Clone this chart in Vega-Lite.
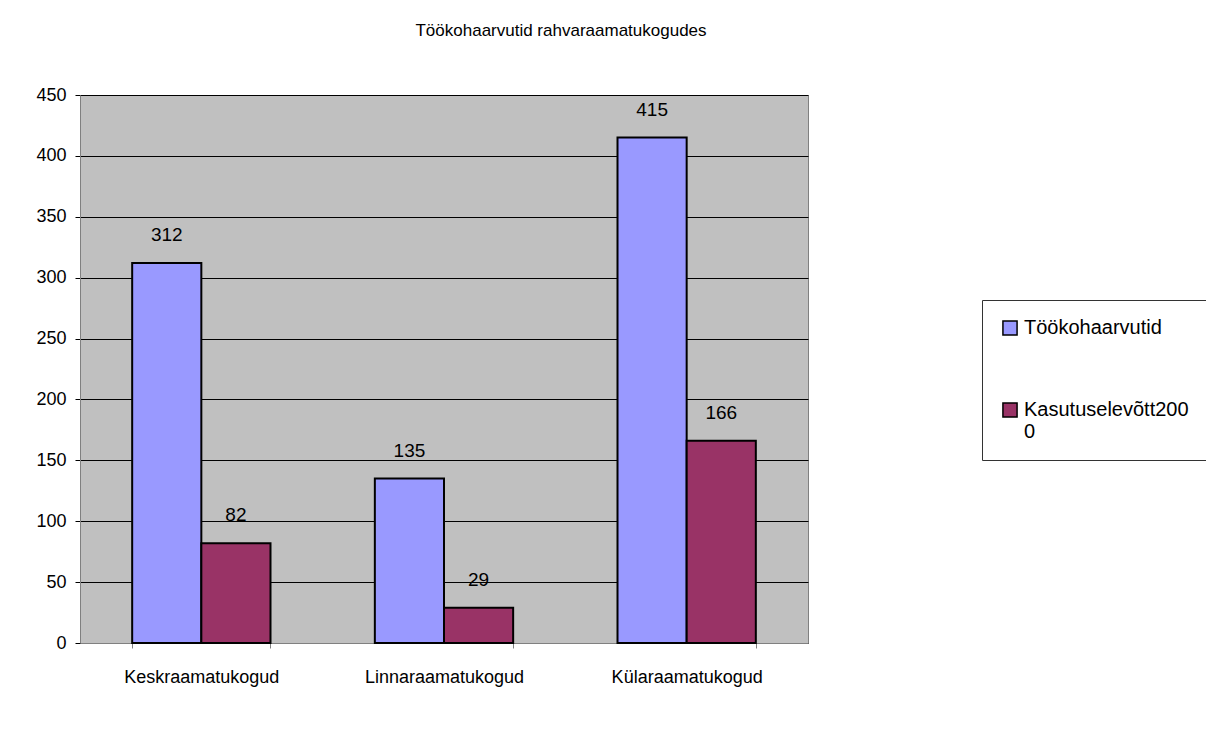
{
  "$schema": "https://vega.github.io/schema/vega-lite/v6.json",
  "autosize": {"type": "none"},
  "padding": {"left": 80, "top": 95, "right": 398, "bottom": 100},
  "width": 728,
  "height": 548,
  "background": "white",
  "title": {
    "text": "Töökohaarvutid rahvaraamatukogudes",
    "font": "Liberation Sans",
    "fontSize": 17,
    "fontWeight": "normal",
    "color": "black",
    "anchor": "middle",
    "dx": 117,
    "offset": 46
  },
  "data": {
    "values": [
      {"kategooria": "Keskraamatukogud", "seeria": "Töökohaarvutid", "väärtus": 312},
      {"kategooria": "Keskraamatukogud", "seeria": "Kasutuselevõtt2000", "väärtus": 82},
      {"kategooria": "Linnaraamatukogud", "seeria": "Töökohaarvutid", "väärtus": 135},
      {"kategooria": "Linnaraamatukogud", "seeria": "Kasutuselevõtt2000", "väärtus": 29},
      {"kategooria": "Külaraamatukogud", "seeria": "Töökohaarvutid", "väärtus": 415},
      {"kategooria": "Külaraamatukogud", "seeria": "Kasutuselevõtt2000", "väärtus": 166}
    ]
  },
  "encoding": {
    "x": {
      "field": "kategooria",
      "type": "nominal",
      "sort": ["Keskraamatukogud", "Linnaraamatukogud", "Külaraamatukogud"],
      "scale": {"paddingInner": 0.43, "paddingOuter": 0.215},
      "axis": {
        "title": null,
        "labelAngle": 0,
        "labelFont": "Liberation Sans",
        "labelFontSize": 18,
        "labelColor": "black",
        "labelPadding": 20,
        "tickBand": "extent",
        "tickColor": "#808080",
        "tickSize": 5,
        "domainColor": "#808080",
        "grid": false
      }
    },
    "xOffset": {
      "field": "seeria",
      "type": "nominal",
      "sort": ["Töökohaarvutid", "Kasutuselevõtt2000"],
      "scale": {"paddingInner": 0, "paddingOuter": 0}
    },
    "y": {
      "field": "väärtus",
      "type": "quantitative",
      "scale": {"domain": [0, 450], "nice": false},
      "axis": {
        "title": null,
        "values": [0, 50, 100, 150, 200, 250, 300, 350, 400, 450],
        "labelFont": "Liberation Sans",
        "labelFontSize": 18,
        "labelColor": "black",
        "labelPadding": 9,
        "tickColor": "black",
        "tickSize": 5,
        "domainColor": "#808080",
        "grid": true,
        "gridColor": "black",
        "gridWidth": 1
      }
    }
  },
  "layer": [
    {
      "mark": {"type": "bar", "stroke": "black", "strokeWidth": 2},
      "encoding": {
        "color": {
          "field": "seeria",
          "type": "nominal",
          "sort": ["Töökohaarvutid", "Kasutuselevõtt2000"],
          "scale": {"domain": ["Töökohaarvutid", "Kasutuselevõtt2000"], "range": ["#9999FF", "#993366"]},
          "legend": {
            "title": null,
            "orient": "none",
            "legendX": 902,
            "legendY": 205,
            "direction": "vertical",
            "strokeColor": "#333333",
            "padding": 18,
            "symbolType": "square",
            "symbolSize": 200,
            "symbolStrokeColor": "black",
            "symbolStrokeWidth": 1.5,
            "symbolOpacity": 1,
            "labelFont": "Liberation Sans",
            "labelFontSize": 20,
            "labelColor": "black",
            "labelOffset": 4,
            "labelLimit": 400,
            "rowPadding": 60,
            "labelExpr": "datum.label == 'Kasutuselevõtt2000' ? ['Kasutuselevõtt200', '0'] : datum.label"
          }
        }
      }
    },
    {
      "mark": {"type": "text", "baseline": "bottom", "dy": -18, "font": "Liberation Sans", "fontSize": 19, "color": "black"},
      "encoding": {"text": {"field": "väärtus", "type": "quantitative"}}
    }
  ],
  "config": {
    "view": {"fill": "#C0C0C0", "stroke": "#808080", "strokeWidth": 1}
  }
}
